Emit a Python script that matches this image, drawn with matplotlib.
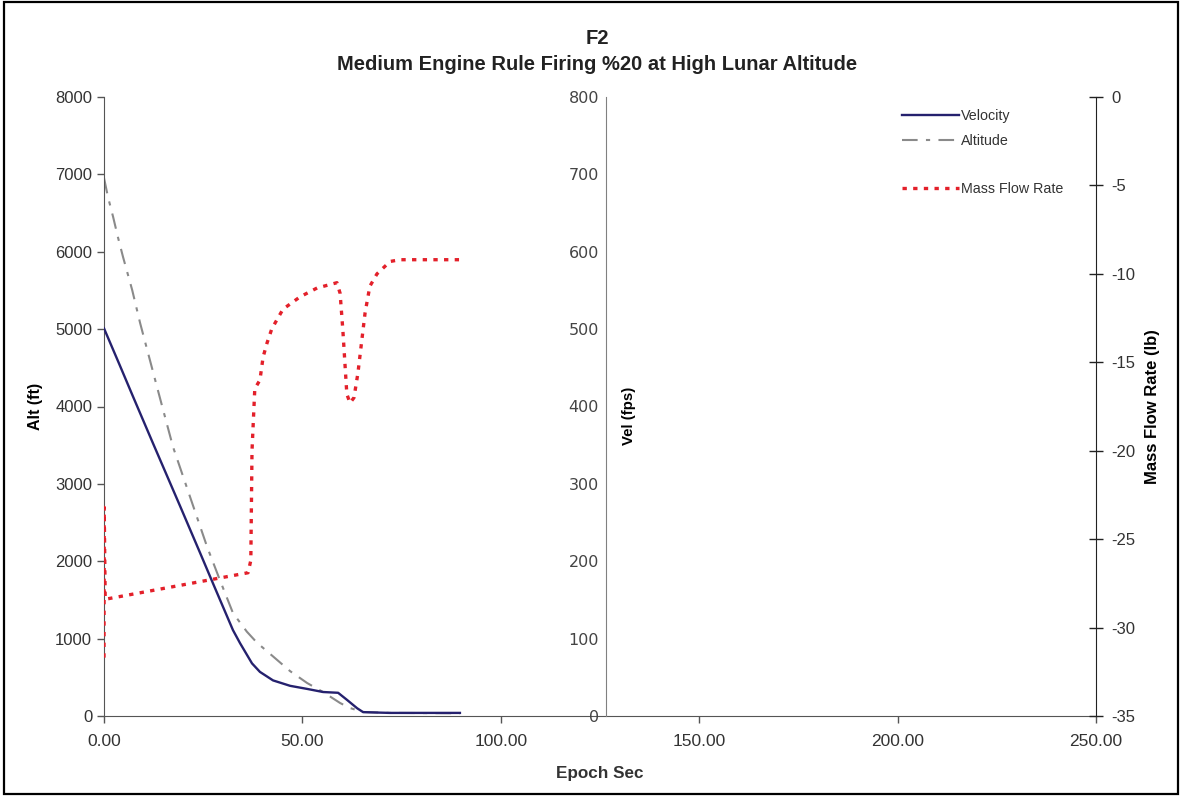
import matplotlib
matplotlib.use("Agg")
import matplotlib.pyplot as plt
from matplotlib.patches import Rectangle

plt.rcParams['font.family'] = ['Liberation Sans', 'DejaVu Sans']
plt.rcParams['axes.unicode_minus'] = False

# ---- data ----
vel_t = [0.0, 4.0, 7.3, 12.3, 19.2, 24.2, 27.5, 32.5, 34.3, 37.3, 39.3, 42.6, 46.9,
         51.2, 55.2, 59.0, 61.2, 63.8, 65.3, 72.0, 80.0, 89.7]
vel_v = [501, 453, 413, 353, 271, 211, 171, 111, 94, 68, 57, 46, 39,
         35, 31, 30, 21, 10, 5, 4, 4, 4]

alt_t = [0.0, 1.0, 2.3, 3.5, 4.8, 7.1, 9.1, 11.1, 12.9, 14.1, 17.4, 21.7, 26.0, 29.2,
         32.5, 36.0, 38.5, 42.6, 46.9, 51.2, 55.2, 59.5, 62.0, 65.3, 72.0, 80.0, 89.7]
alt_v = [6953, 6708, 6450, 6190, 5932, 5506, 5079, 4691, 4342, 4110, 3477, 2830, 2184,
         1758, 1331, 1090, 950, 770, 580, 426, 310, 168, 103, 52, 40, 38, 35]

mfr_t = [0.0, 0.05, 0.3, 36.3, 37.0, 37.3, 38.0, 39.3, 40.1, 41.1, 42.3, 45.1, 49.4,
         53.7, 58.7, 59.5, 60.2, 60.7, 61.2, 62.0, 63.0, 64.0, 65.0, 65.8, 67.0,
         68.8, 72.1, 74.6, 89.7]
mfr_v = [-31.7, -23.2, -28.4, -26.9, -26.2, -20.0, -16.5, -16.0, -14.7, -13.9, -13.1,
         -12.0, -11.3, -10.8, -10.5, -11.1, -13.2, -15.0, -16.8, -17.3, -17.0, -15.6,
         -13.7, -12.2, -10.7, -10.0, -9.3, -9.2, -9.2]

x_ticks = [0, 50, 100, 150, 200, 250]
alt_ticks = [0, 1000, 2000, 3000, 4000, 5000, 6000, 7000, 8000]
vel_ticks = [0, 100, 200, 300, 400, 500, 600, 700, 800]
mfr_ticks = [0, -5, -10, -15, -20, -25, -30, -35]

title_1 = "F2"
title_2 = "Medium Engine Rule Firing %20 at High Lunar Altitude"

# ---- figure ----
W, H = 1182, 796
fig = plt.figure(figsize=(W / 100, H / 100), dpi=100)
L, R, T, B = 104, 1096, 97, 716
ax = fig.add_axes([L / W, 1 - B / H, (R - L) / W, (B - T) / H])

txt_col = '#333333'

# Altitude on left axis
alt_line, = ax.plot(alt_t, alt_v, color='#8a8a8a', lw=1.5,
                    dashes=(7.5, 4, 2, 4), label='Altitude')
ax.set_xlim(0, 250)
ax.set_ylim(0, 8000)
ax.set_xticks(x_ticks)
ax.set_xticklabels([f"{v:.2f}" for v in x_ticks])
ax.set_yticks(alt_ticks)
ax.tick_params(axis='both', direction='out', length=5, width=1, colors='#555555',
               labelcolor=txt_col, labelsize=12)
ax.tick_params(axis='x', labelsize=12.5, pad=8)
for s in ('top', 'right'):
    ax.spines[s].set_visible(False)
ax.spines['left'].set_color('#555555')
ax.spines['bottom'].set_color('#555555')
ax.set_xlabel('Epoch Sec', fontsize=12.3, fontweight='bold', color=txt_col, labelpad=12)
ax.set_ylabel('Alt (ft)', fontsize=11.5, fontweight='bold', color='black', labelpad=9)

# Velocity axis in the middle
axv = ax.twinx()
axv.spines['right'].set_visible(False)
axv.spines['top'].set_visible(False)
axv.spines['bottom'].set_visible(False)
axv.spines['left'].set_visible(True)
axv.spines['left'].set_position(('axes', 0.506))
axv.spines['left'].set_color('#808080')
axv.spines['left'].set_linewidth(0.8)
axv.yaxis.set_ticks_position('left')
axv.yaxis.set_label_position('left')
vel_line, = axv.plot(vel_t, vel_v, color='#25216e', lw=1.7, label='Velocity')
axv.set_ylim(0, 800)
axv.set_yticks(vel_ticks)
axv.tick_params(axis='y', length=0, pad=5, labelsize=11.5, labelcolor='#444444')
for lab in axv.get_yticklabels():
    lab.set_family(['DejaVu Sans'])
axv.text(0.506 + 0.0235, 0.485, 'Vel (fps)', transform=axv.transAxes, rotation=90,
         ha='center', va='center', fontsize=10.8, fontweight='bold', color='black')

# Mass flow rate on right axis
axm = ax.twinx()
axm.spines['top'].set_visible(False)
axm.spines['left'].set_visible(False)
axm.spines['bottom'].set_visible(False)
axm.spines['right'].set_color('#222222')
mfr_line, = axm.plot(mfr_t, mfr_v, color='#e3202a', lw=2.4, dashes=(1.3, 1.9),
                     label='Mass Flow Rate')
axm.set_ylim(-35, 0)
axm.set_yticks(mfr_ticks)
axm.tick_params(axis='y', direction='inout', length=10, width=1, colors='#222222',
                labelcolor=txt_col, labelsize=12, pad=6)
axm.set_ylabel('Mass Flow Rate (lb)', fontsize=12, fontweight='bold', color='black',
               labelpad=7)

ax.set_zorder(1); ax.patch.set_visible(False)
axv.set_zorder(2); axm.set_zorder(3)

# Legends
leg_kw = dict(loc='upper left', frameon=False, fontsize=10.3, handlelength=4.0,
              handletextpad=0.1, borderpad=0, borderaxespad=0)
leg1 = fig.legend(handles=[vel_line, alt_line], bbox_to_anchor=(902 / W, 1 - 109 / H),
                  labelspacing=0.75, **leg_kw)
leg2 = fig.legend(handles=[mfr_line], bbox_to_anchor=(902 / W, 1 - 182 / H), **leg_kw)
for lg in (leg1, leg2):
    for t in lg.get_texts():
        t.set_color(txt_col)

# Title
fig.text(597 / W, 1 - 38 / H, title_1, ha='center', va='center', fontsize=14.5,
         fontweight='bold', color='#222222')
fig.text(597 / W, 1 - 65 / H, title_2, ha='center', va='center', fontsize=14.5,
         fontweight='bold', color='#222222')

# Outer border
fig.patches.append(Rectangle((0.003, 0.002), 0.994, 0.996, transform=fig.transFigure,
                             fill=False, edgecolor='black', lw=1.6))

fig.savefig('out.png', dpi=100)
